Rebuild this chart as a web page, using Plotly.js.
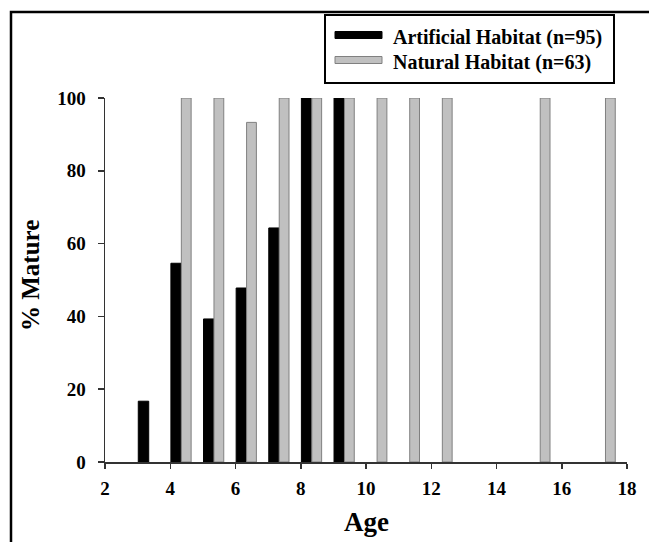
<!DOCTYPE html>
<html>
<head>
<meta charset="utf-8">
<script src="https://cdn.plot.ly/plotly-3.0.1.min.js"></script>
<style>html,body{margin:0;padding:0;background:#fff;}#chart{width:649px;height:542px;}</style>
</head>
<body>
<div id="chart"></div>
<script>
var ages = [3, 4, 5, 6, 7, 8, 9, 10, 11, 12, 13, 14, 15, 16, 17];
var artificial = [16.7, 54.6, 39.3, 47.8, 64.3, 100, 100, null, null, null, null, null, null, null, null];
var natural = [null, 100, 100, 93.3, 100, 100, 100, 100, 100, 100, null, null, 100, null, 100];
var seriesNames = ["Artificial Habitat (n=95)", "Natural Habitat (n=63)"];
var xTicks = [2, 4, 6, 8, 10, 12, 14, 16, 18];
var yTicks = [0, 20, 40, 60, 80, 100];
var xTitle = "Age";
var yTitle = "% Mature";

var serif = "'Liberation Serif', 'Times New Roman', 'DejaVu Serif', serif";

var traces = [
  {type: "bar", x: ages, y: artificial, name: seriesNames[0], offset: 0.02, width: 0.32,
   marker: {color: "#000000", line: {color: "#000000", width: 1}}, xaxis: "x", yaxis: "y"},
  {type: "bar", x: ages, y: natural, name: seriesNames[1], offset: 0.34, width: 0.3,
   marker: {color: "#c0c0c0", line: {color: "#808080", width: 1}}, xaxis: "x", yaxis: "y"}
];

function px2x(p) { return (p - 105) / 522; }
function px2y(p) { return (462 - p) / 364; }

var layout = {
  width: 649, height: 542,
  margin: {l: 105, r: 22, t: 98, b: 80, pad: 0},
  paper_bgcolor: "#ffffff", plot_bgcolor: "#ffffff",
  showlegend: false,
  barmode: "overlay",
  font: {family: serif, color: "#000000"},
  xaxis: {
    range: [2, 18], tickvals: xTicks, ticktext: xTicks.map(String),
    showgrid: false, zeroline: false, showline: true, linecolor: "#333333", linewidth: 1.5,
    ticks: "outside", ticklen: 5, tickwidth: 1.5, tickcolor: "#333333",
    ticklabelstandoff: 4,
    tickfont: {family: serif, size: 19, color: "#000000", weight: "bold"}
  },
  xaxis2: {
    overlaying: "x", anchor: "y", side: "bottom", range: [2, 18], tickvals: xTicks,
    showgrid: false, zeroline: false, showline: false, showticklabels: false,
    ticks: "inside", ticklen: 6, tickwidth: 1.5, tickcolor: "#333333"
  },
  yaxis: {
    range: [0, 100], tickvals: yTicks, ticktext: yTicks.map(String),
    showgrid: false, zeroline: false, showline: true, linecolor: "#333333", linewidth: 1.5,
    ticks: "outside", ticklen: 6, tickwidth: 1.5, tickcolor: "#333333",
    ticklabelstandoff: 8,
    tickfont: {family: serif, size: 19, color: "#000000", weight: "bold"}
  },
  shapes: [
    {type: "rect", xref: "paper", yref: "paper", x0: px2x(11), x1: px2x(700), y0: px2y(600), y1: px2y(12),
     line: {color: "#000000", width: 2.5}, fillcolor: "rgba(0,0,0,0)", layer: "below"},
    {type: "rect", xref: "paper", yref: "paper", x0: px2x(325), x1: px2x(614), y0: px2y(83), y1: px2y(15),
     line: {color: "#000000", width: 2}, fillcolor: "#ffffff"},
    {type: "rect", xref: "paper", yref: "paper", x0: px2x(335), x1: px2x(382), y0: px2y(38.5), y1: px2y(31.5),
     line: {color: "#000000", width: 1}, fillcolor: "#000000"},
    {type: "rect", xref: "paper", yref: "paper", x0: px2x(335), x1: px2x(382), y0: px2y(63.5), y1: px2y(56.5),
     line: {color: "#808080", width: 1}, fillcolor: "#c0c0c0"}
  ],
  annotations: [
    {xref: "paper", yref: "paper", x: px2x(391), y: px2y(38), xanchor: "left", yanchor: "middle",
     text: "<b>" + seriesNames[0] + "</b>", showarrow: false, font: {family: serif, size: 20, color: "#000000"}},
    {xref: "paper", yref: "paper", x: px2x(391), y: px2y(63), xanchor: "left", yanchor: "middle",
     text: "<b>" + seriesNames[1] + "</b>", showarrow: false, font: {family: serif, size: 20, color: "#000000"}},
    {xref: "paper", yref: "paper", x: px2x(366), y: px2y(522), xanchor: "center", yanchor: "middle",
     text: "<b>" + xTitle + "</b>", showarrow: false, font: {family: serif, size: 27, color: "#000000"}},
    {xref: "paper", yref: "paper", x: px2x(30), y: px2y(276), xanchor: "center", yanchor: "middle", textangle: -90,
     text: "<b>" + yTitle + "</b>", showarrow: false, font: {family: serif, size: 25, color: "#000000"}}
  ]
};

Plotly.newPlot("chart", traces, layout, {staticPlot: true, displayModeBar: false});
</script>
</body>
</html>
